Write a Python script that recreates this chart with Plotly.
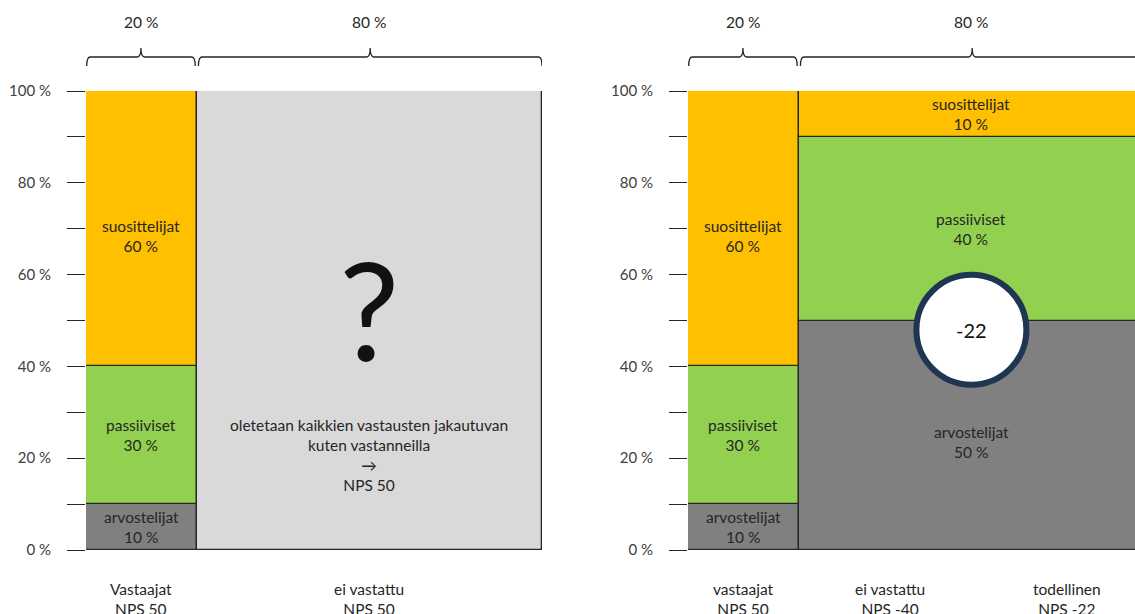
import plotly.graph_objects as go

# ---------------- data ----------------
segments = ["arvostelijat", "passiiviset", "suosittelijat"]          # bottom -> top
seg_colors = {"arvostelijat": "#808080", "passiiviset": "#92D050", "suosittelijat": "#FFC000"}

responders = [10, 30, 60]           # vastaajat (both panels)
nonresp_right = [50, 40, 10]        # ei vastattu, right panel
unknown_share = [100]               # left panel, unknown distribution

col_share_labels = ["20 %", "80 %"]
col_draw_widths = [24.3, 75.7]      # drawn widths of the two columns (panel units)

left_bottom = [["Vastaajat", "NPS 50"], ["ei vastattu", "NPS 50"]]
right_bottom = [["vastaajat", "NPS 50"], ["ei vastattu", "NPS -40"]]
right_bottom_x = [None, 44.3]       # right panel "ei vastattu" label sits left of column centre
total_label = ["todellinen", "NPS -22"]
total_nps = "-22"
total_label_x = 83.1
circle_y = 48

yticks = list(range(0, 101, 10))
ytext = [f"{v} %" if v % 20 == 0 else "" for v in yticks]

note_lines = ["oletetaan kaikkien vastausten jakautuvan", "kuten vastanneilla", "\u2192", "NPS 50"]

# ---------------- layout helpers ----------------
W, H = 1135, 614
FONT = "Lato"
FS = 15.5
TXT = "#262626"
EDGE = "#262626"
label_yshift = {(0, "suosittelijat"): -7, (1, "arvostelijat"): -7}   # px offsets of labels

def py(px):
    return 1 - px / H

ydom = [py(550), py(91)]
left_dom = [86 / W, 542 / W]
right_dom = [688 / W, 1.0]
right_range = [0, (W - 688) / (542 - 86) * 100]

col_x0 = [0, col_draw_widths[0]]
col_x1 = [col_draw_widths[0], col_draw_widths[0] + col_draw_widths[1]]
col_mid = [(a + b) / 2 for a, b in zip(col_x0, col_x1)]

fig = go.Figure()
annotations = []
shapes = []

def stack(xaxis, yaxis, col, values, names, colors, labels=True):
    base = 0
    for v, n, c in zip(values, names, colors):
        fig.add_trace(go.Bar(
            x=[col_mid[col]], y=[v], base=[base], width=[col_draw_widths[col]],
            marker=dict(color=c, line=dict(color=EDGE, width=1.3)),
            xaxis=xaxis, yaxis=yaxis, showlegend=False, hoverinfo="skip"))
        if labels:
            annotations.append(dict(
                x=col_mid[col], y=base + v / 2, xref=xaxis, yref=yaxis,
                yanchor="middle", yshift=label_yshift.get((col, n), 0),
                text=f"{n}<br>{v} %", showarrow=False,
                font=dict(family=FONT, size=FS, color=TXT)))
        base += v

# left panel
stack("x", "y", 0, responders, segments, [seg_colors[s] for s in segments])
stack("x", "y", 1, unknown_share, [""], ["#D9D9D9"], labels=False)
# right panel
stack("x2", "y2", 0, responders, segments, [seg_colors[s] for s in segments])
stack("x2", "y2", 1, nonresp_right, segments, [seg_colors[s] for s in segments])

# question mark + note in left grey column
annotations.append(dict(x=col_mid[1], y=52.5, xref="x", yref="y", text="?", showarrow=False,
                        yanchor="middle",
                        font=dict(family=FONT, size=135, color="#111111")))
annotations.append(dict(x=col_mid[1], y=20.7, xref="x", yref="y", text="<br>".join(note_lines),
                        showarrow=False, yanchor="middle",
                        font=dict(family=FONT, size=FS, color=TXT)))

# braces + share labels + bottom labels
def brace(x0, x1):
    mid = (x0 + x1) / 2
    r = 0.8
    yl, ye, yt = py(57), py(66), py(48)
    return (f"M {x0},{ye} Q {x0},{yl} {x0 + r},{yl} L {mid - r},{yl} "
            f"Q {mid},{yl} {mid},{yt} Q {mid},{yl} {mid + r},{yl} "
            f"L {x1 - r},{yl} Q {x1},{yl} {x1},{ye}")

for xref, bottoms, bx in (("x", left_bottom, [None, None]), ("x2", right_bottom, right_bottom_x)):
    for i in range(2):
        a = col_x0[i] + (0.35 if i == 1 else 0.15)
        b = col_x1[i] - (0.35 if i == 0 else 0)
        shapes.append(dict(type="path", xref=xref, yref="paper", path=brace(a, b),
                           line=dict(color="#262626", width=1.3)))
        annotations.append(dict(x=col_mid[i], y=py(22), xref=xref, yref="paper",
                                yanchor="middle",
                                text=col_share_labels[i], showarrow=False,
                                font=dict(family=FONT, size=FS, color=TXT)))
        annotations.append(dict(x=bx[i] if bx[i] is not None else col_mid[i], y=py(599),
                                xref=xref, yref="paper", yanchor="middle",
                                text="<br>".join(bottoms[i]), showarrow=False,
                                font=dict(family=FONT, size=FS, color=TXT)))

annotations.append(dict(x=total_label_x, y=py(599), xref="x2", yref="paper", yanchor="middle",
                        text="<br>".join(total_label), showarrow=False,
                        font=dict(family=FONT, size=FS, color=TXT)))

# NPS circle
shapes.append(dict(type="circle", xref="x2", yref="y2", xsizemode="pixel", ysizemode="pixel",
                   xanchor=col_mid[1], yanchor=circle_y, x0=-55, x1=55, y0=-55, y1=55,
                   fillcolor="white", line=dict(color="#1F3653", width=6), layer="above"))
annotations.append(dict(x=col_mid[1], y=circle_y, xref="x2", yref="y2", text=total_nps,
                        showarrow=False, yanchor="middle",
                        font=dict(family=FONT, size=20, color="#111111")))

yaxis_common = dict(range=[0, 100], domain=ydom, tickvals=yticks, ticktext=ytext,
                    ticks="outside", ticklen=18, tickwidth=1.3, tickcolor="#262626",
                    ticklabelstandoff=13, showgrid=False, zeroline=False, showline=False,
                    automargin=False,
                    tickfont=dict(family=FONT, size=15, color="#404040"), fixedrange=True)
xaxis_common = dict(showgrid=False, zeroline=False, showline=False, showticklabels=False,
                    ticks="", fixedrange=True, automargin=False)

fig.update_layout(
    width=W, height=H, margin=dict(l=0, r=0, t=0, b=0, autoexpand=False),
    paper_bgcolor="white", plot_bgcolor="white", barmode="overlay", bargap=0,
    xaxis=dict(domain=left_dom, range=[0, 100], **xaxis_common),
    yaxis=dict(anchor="x", **yaxis_common),
    xaxis2=dict(domain=right_dom, range=right_range, anchor="y2", **xaxis_common),
    yaxis2=dict(anchor="x2", **yaxis_common),
    annotations=annotations, shapes=shapes, showlegend=False,
)

fig.write_html("out.html", config={"displayModeBar": False})
